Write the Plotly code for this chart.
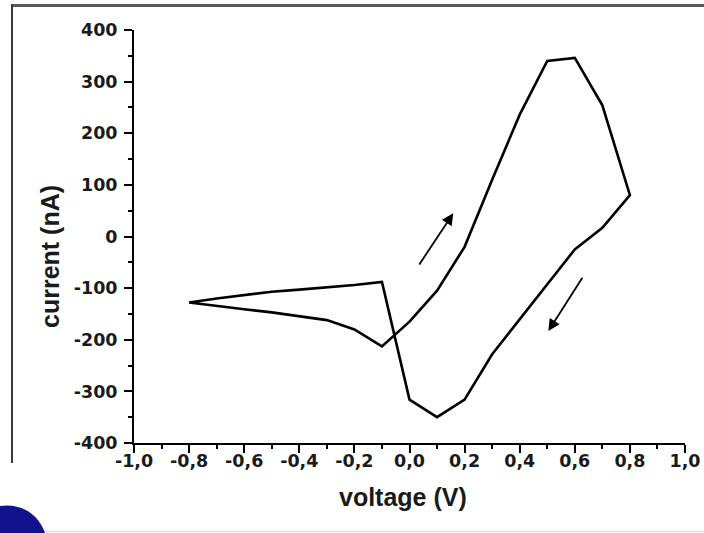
import plotly.graph_objects as go

# ---- data ----
voltage_forward = [-0.8, -0.7, -0.6, -0.5, -0.4, -0.3, -0.2, -0.1, 0.0, 0.1, 0.2, 0.3, 0.4, 0.5, 0.6, 0.7, 0.8]
current_forward = [-128, -135, -141, -147, -154, -162, -180, -213, -165, -105, -20, 110, 236, 340, 346, 254, 80]
voltage_reverse = [0.8, 0.7, 0.6, 0.5, 0.4, 0.3, 0.2, 0.1, 0.0, -0.1, -0.2, -0.3, -0.4, -0.5, -0.6, -0.7, -0.8]
current_reverse = [80, 17, -25, -93, -160, -228, -316, -350, -316, -88, -94, -99, -103, -107, -113, -120, -128]

x_tick_vals = [-1.0, -0.8, -0.6, -0.4, -0.2, 0.0, 0.2, 0.4, 0.6, 0.8, 1.0]
x_tick_labels = ["-1,0", "-0,8", "-0,6", "-0,4", "-0,2", "0,0", "0,2", "0,4", "0,6", "0,8", "1,0"]
y_tick_vals = [-400, -300, -200, -100, 0, 100, 200, 300, 400]
y_tick_labels = ["-400", "-300", "-200", "-100", "0", "100", "200", "300", "400"]

# sweep-direction arrows: (tail V, tail I, head V, head I)
arrow_up = (0.032, -57, 0.159, 45)
arrow_down = (0.631, -77, 0.504, -183)

W, H = 704, 533
ML, MR, MT, MB = 134, 19, 30, 90
PW, PH = W - ML - MR, H - MT - MB


def px(xp):
    return (xp - ML) / PW


def py(yp):
    return (H - MB - yp) / PH


fig = go.Figure()
fig.add_trace(go.Scatter(
    x=voltage_forward + voltage_reverse,
    y=current_forward + current_reverse,
    mode="lines",
    line=dict(color="black", width=2.6),
    showlegend=False,
    hoverinfo="skip",
))

tickfont = dict(family="DejaVu Sans", size=17.5, color="#1a1a1a", weight="bold")
titlefont = dict(family="Liberation Sans", size=25, color="#1a1a1a", weight="bold")

fig.update_xaxes(
    range=[-1, 1], showline=True, linecolor="black", linewidth=2,
    ticks="outside", ticklen=8, tickwidth=2, tickcolor="black",
    tickvals=x_tick_vals, ticktext=x_tick_labels, tickfont=tickfont,
    ticklabelstandoff=-7, automargin=False,
    showgrid=False, zeroline=False,
    minor=dict(ticks="outside", ticklen=4, tickwidth=2, tickcolor="black", dtick=0.1, showgrid=False),
)
fig.update_yaxes(
    range=[-400, 400], showline=True, linecolor="black", linewidth=2,
    ticks="outside", ticklen=8, tickwidth=2, tickcolor="black",
    tickvals=y_tick_vals, ticktext=y_tick_labels, tickfont=tickfont,
    ticklabelstandoff=3, automargin=False,
    showgrid=False, zeroline=False,
    minor=dict(ticks="outside", ticklen=4, tickwidth=2, tickcolor="black", dtick=50, showgrid=False),
)

annotations = []
for (tv, ti, hv, hi) in (arrow_up, arrow_down):
    annotations.append(dict(
        x=hv, y=hi, ax=tv, ay=ti, xref="x", yref="y", axref="x", ayref="y",
        text="", showarrow=True, arrowhead=2, arrowsize=1.3, arrowwidth=1.8, arrowcolor="black",
    ))
annotations.append(dict(
    text="voltage (V)", x=px(403), y=py(497), xref="paper", yref="paper",
    showarrow=False, font=titlefont, xanchor="center", yanchor="middle",
))
annotations.append(dict(
    text="current (nA)", x=px(50), y=py(257), xref="paper", yref="paper",
    showarrow=False, font=titlefont, textangle=-90, xanchor="center", yanchor="middle",
))

shapes = [
    # slide frame (top and left)
    dict(type="line", xref="paper", yref="paper", x0=px(11), x1=px(704), y0=py(5.5), y1=py(5.5),
         line=dict(color="#5a5a5a", width=3)),
    dict(type="line", xref="paper", yref="paper", x0=px(12), x1=px(12), y0=py(4), y1=py(463),
         line=dict(color="#3a3a3a", width=2)),
    # bottom light line
    dict(type="line", xref="paper", yref="paper", x0=px(40), x1=px(704), y0=py(531.5), y1=py(531.5),
         line=dict(color="#dcdcdc", width=1.5)),
    # blue blob bottom-left
    dict(type="path", xref="paper", yref="paper",
         path=(f"M {px(0)},{py(533)} L {px(0)},{py(506)} "
               f"C {px(20)},{py(503)} {px(38)},{py(513)} {px(45)},{py(533)} Z"),
         fillcolor="#12128e", line=dict(width=0)),
]

fig.update_layout(
    width=W, height=H,
    margin=dict(l=ML, r=MR, t=MT, b=MB, autoexpand=False),
    plot_bgcolor="white", paper_bgcolor="white",
    annotations=annotations, shapes=shapes,
)

fig.write_html(
    "out.html",
    config={"displayModeBar": False},
    post_script="document.body.style.margin='0px';document.body.style.padding='0px';"
                "document.documentElement.style.overflow='hidden';",
)
